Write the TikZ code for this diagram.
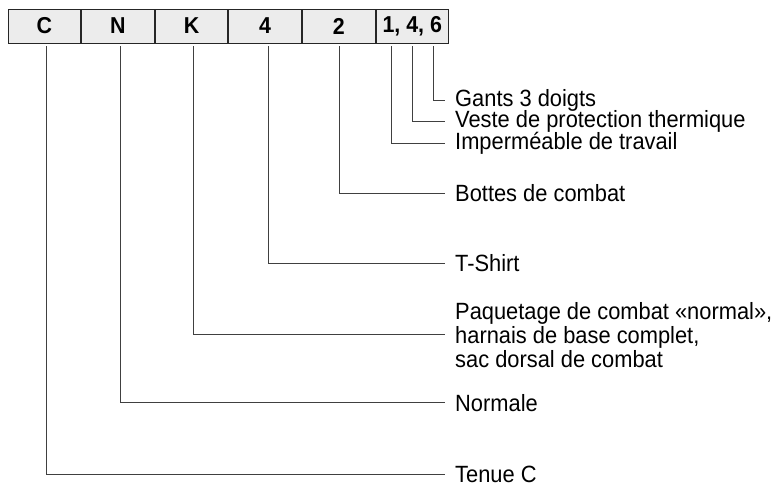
\documentclass[tikz,border=0pt]{standalone}
\usepackage{fontspec}
\setmainfont{Liberation Sans}[FakeStretch=0.93]
\usetikzlibrary{positioning}
\tikzset{x=1pt, y=-1pt, % one unit is one pixel, y runs downward
code/.style={draw=black!85, line width=0.9pt, fill=gray!15, minimum width=72.7pt, minimum height=34pt, inner sep=0pt, font=\fontsize{23}{21}\selectfont\bfseries}, % the boxes of the code
item/.style={anchor=west, inner sep=0pt, align=left, font=\fontsize{23.5}{24}\selectfont}, % the explanations
link/.style={draw=black!75, line width=0.8pt}, % the connecting lines
}

\begin{document}
\begin{tikzpicture}
\useasboundingbox (0,0) rectangle (775,484);
\node[code] (c) at (44.3,26) {C};
\node[code, right=0pt of c] (n) {N};
\node[code, right=0pt of n] (k) {K};
\node[code, right=0pt of k] (four) {4};
\node[code, right=0pt of four] (two) {2};
\node[code, right=0pt of two] (gear) {1, 4, 6};
\node[item] (gants) at (455,100) {Gants 3 doigts};
\node[item] (veste) at (455,121.5) {Veste de protection thermique};
\node[item] (imper) at (455,143.5) {Imperméable de travail};
\node[item] (bottes) at (455,193.3) {Bottes de combat};
\node[item] (tshirt) at (455,263) {T-Shirt};
\node[item] (paquet) at (455,334.7) {Paquetage de combat «normal»,\\harnais de base complet,\\sac dorsal de combat};
\node[item] (normale) at (455,402.7) {Normale};
\node[item] (tenue) at (455,474) {Tenue C};
\draw[link] ([xshift=2pt,yshift=-3pt]c.south) |- ([xshift=-10pt]tenue.west);
\draw[link] ([xshift=2pt,yshift=-3pt]n.south) |- ([xshift=-10pt]normale.west);
\draw[link] ([xshift=2pt,yshift=-3pt]k.south) |- ([xshift=-10pt]paquet.west);
\draw[link] ([xshift=3pt,yshift=-3pt]four.south) |- ([xshift=-10pt]tshirt.west);
\draw[link] ([xshift=1pt,yshift=-3pt]two.south) |- ([xshift=-10pt]bottes.west);
\draw[link] ([xshift=-21pt,yshift=-3pt]gear.south) |- ([xshift=-10pt]imper.west);
\draw[link] ([yshift=-3pt]gear.south) |- ([xshift=-10pt]veste.west);
\draw[link] ([xshift=21pt,yshift=-3pt]gear.south) |- ([xshift=-10pt]gants.west);
\end{tikzpicture}
\end{document}
